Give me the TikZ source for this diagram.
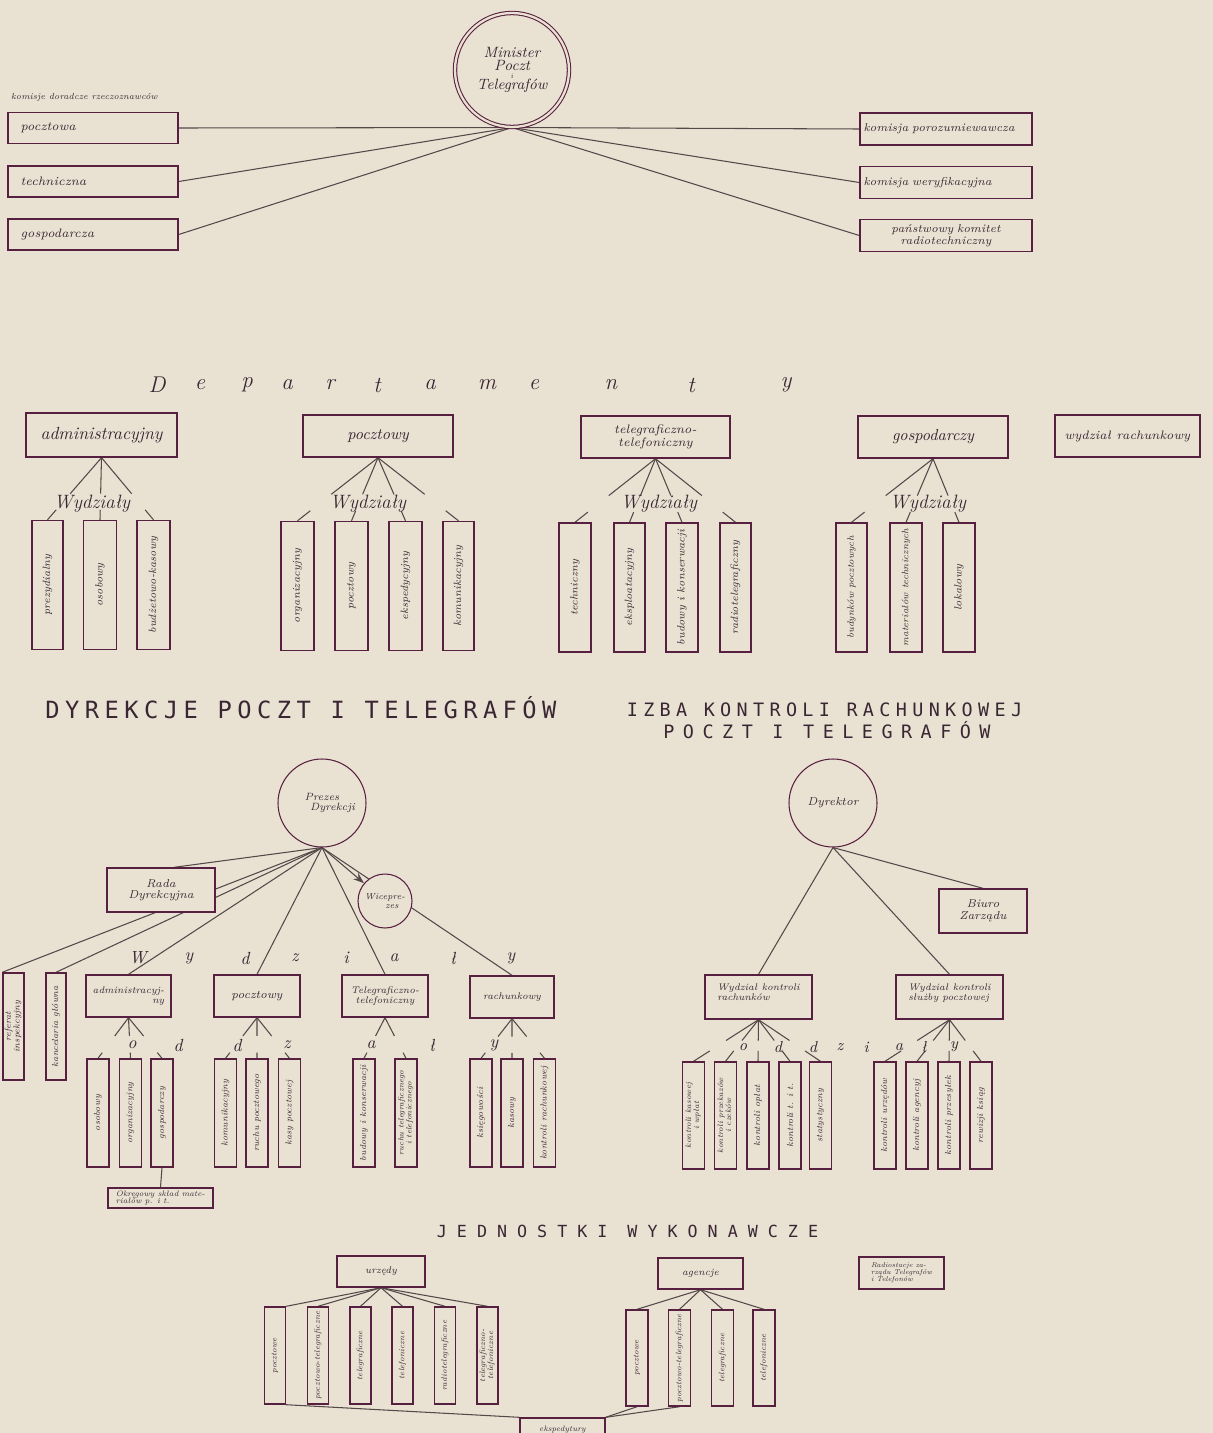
\documentclass[tikz,border=0pt]{standalone}
\usepackage{fontspec}
\usepackage{graphicx}
\usetikzlibrary{calc,arrows.meta}
\newfontfamily\headfont{DejaVu Sans Mono}
\definecolor{paper}{RGB}{233,226,211}
\definecolor{ink}{RGB}{58,38,50}
\definecolor{boxline}{RGB}{88,32,64}
\definecolor{wire}{RGB}{84,72,72}
\pgfdeclarelayer{back}
\pgfsetlayers{back,main}
\newcommand{\hw}[1]{\fontsize{#1}{#1}\selectfont\itshape}
\newcommand{\vt}[1]{\rotatebox{90}{#1}}
\newcommand{\vtt}[2]{\rotatebox{90}{\begin{tabular}{@{}c@{}}#1\\#2\end{tabular}}}
\newcommand{\fan}[4]{%
  \foreach \c in {#2}
    \draw[link] (#1.south) -- ($(#1.south)!#3!(\c.north)$)
                ($(#1.south)!#4!(\c.north)$) -- (\c.north);
}
\tikzset{
  orgbox/.style 2 args = {draw=boxline,thick,fill=paper,text=ink,align=center,inner sep=1pt,
                          minimum width=#1*0.02cm,minimum height=#2*0.02cm},
  orgstrip/.style 2 args = {orgbox={#1}{#2},font=\hw{5}},
  lbox/.style  = {orgbox={170}{31},text width=2.9cm,inner xsep=0.25cm,align=left,font=\hw{7}},
  rbox/.style  = {orgbox={172}{32},text width=3.3cm,inner xsep=0.07cm,align=left,font=\hw{6.5}},
  ring/.style  = {circle,draw=boxline,semithick,fill=paper,text=ink,align=center,inner sep=0pt,
                  minimum size=#1*0.02cm},
  link/.style  = {draw=wire,semithick},
  spaced/.style = {text=ink,font=\hw{#1},inner sep=1pt},
  head/.style  = {text=ink,font=\headfont\fontsize{#1}{#1}\selectfont}
}
\begin{document}
\begin{tikzpicture}[x=0.02cm,y=-0.02cm]
  \useasboundingbox (0,0) rectangle (1213,1433);

  % ministerstwo
  \node[ring=114,double=paper,double distance=1.3pt,font=\hw{8.5}] (min) at (512,70)
    {Minister\\[-1pt]Poczt\\[-4pt]{\hw{4}i}\\[-2pt]Telegrafów};
  \node[text=ink,font=\hw{5},anchor=west] (kom) at (5,97) {komisje doradcze rzeczoznawców};
  \node[lbox] (kPoc) at (93,128) {pocztowa};
  \node[lbox] (kTech) at (93,181.5) {techniczna};
  \node[lbox] (kGos) at (93,234.5) {gospodarcza};
  \node[rbox] (kPor) at (946,129) {komisja porozumiewawcza};
  \node[rbox] (kWer) at (946,182.5) {komisja weryfikacyjna};
  \node[rbox,align=center] (kRad) at (946,235.5) {państwowy komitet\\radiotechniczny};

  % departamenty
  \foreach \x/\l in {157/D,200/e,247/p,287/a,330/r,377/t,430/a,487/m,534/e,611/n,691/t,786/y}
    \node[spaced=13] (dl\x) at (\x,385) {\l};
  \node[orgbox={151}{44},font=\hw{10}] (depAdm) at (101.5,435) {administracyjny};
  \node[orgbox={150}{42},font=\hw{9}] (depPoc) at (378,436) {pocztowy};
  \node[orgbox={149}{42},font=\hw{7}] (depTel) at (655.5,437) {telegraficzno-\\telefoniczny};
  \node[orgbox={150}{42},font=\hw{9}] (depGos) at (933,437) {gospodarczy};
  \node[orgbox={145}{42},font=\hw{7}] (depRach) at (1127.5,436) {wydział rachunkowy};
  \foreach \x/\n in {92/1,368/2,659/3,928/4}
    \node[spaced=11] (wyd\n) at (\x,504) {Wydziały};

  \node[orgstrip={31}{129},font=\hw{6}] (adm1) at (47.5,585) {\vt{prezydialny}};
  \node[orgstrip={33}{129},font=\hw{6}] (adm2) at (100,585) {\vt{osobowy}};
  \node[orgstrip={33}{129},font=\hw{6}] (adm3) at (153.5,585) {\vt{budżetowo-kasowy}};
  \node[orgstrip={33}{129},font=\hw{6}] (poc1) at (297.5,586) {\vt{organizacyjny}};
  \node[orgstrip={33}{129},font=\hw{6}] (poc2) at (351.5,586) {\vt{pocztowy}};
  \node[orgstrip={33}{129},font=\hw{6}] (poc3) at (405.5,586) {\vt{ekspedycyjny}};
  \node[orgstrip={31}{129},font=\hw{6}] (poc4) at (458.5,586) {\vt{komunikacyjny}};
  \node[orgstrip={32}{129},font=\hw{6}] (tel1) at (575,587.5) {\vt{techniczny}};
  \node[orgstrip={31}{129},font=\hw{6}] (tel2) at (629.5,587.5) {\vt{eksploatacyjny}};
  \node[orgstrip={32}{129},font=\hw{6}] (tel3) at (682,587.5) {\vt{budowy i konserwacji}};
  \node[orgstrip={31}{129},font=\hw{6}] (tel4) at (735.5,587.5) {\vt{radiotelegraficzny}};
  \node[orgstrip={31}{129},font=\hw{5.3}] (gos1) at (851.5,587.5) {\vt{budynków pocztowych}};
  \node[orgstrip={32}{129},font=\hw{5.3}] (gos2) at (906,587.5) {\vt{materiałów technicznych}};
  \node[orgstrip={32}{129},font=\hw{6}] (gos3) at (959,587.5) {\vt{lokalowy}};

  % dyrekcje
  \node[head=13.5] (hDyr) at (301,708) {\addfontfeature{LetterSpace=23}DYREKCJE POCZT I TELEGRAFÓW};
  \node[ring=88,font=\hw{6}] (pres) at (322,803) {Prezes\\\hspace{12pt}Dyrekcji};
  \node[orgbox={108}{44},font=\hw{6.5}] (rada) at (161,890) {Rada\\Dyrekcyjna};
  \node[ring=54,font=\hw{5}] (wice) at (385,901) {Wicepre-\\\hspace{8pt}zes};
  \foreach \x/\l in {138/W,189/y,245/d,295/z,346/i,394/a,453/ł,511/y}
    \node[spaced=10] (wl\x) at (\x,958) {\l};
  \node[orgstrip={21}{107}] (ref1) at (13.5,1026.5) {\vtt{referat}{inspekcyjny}};
  \node[orgstrip={20}{107}] (ref2) at (56,1026.5) {\vt{kancelaria główna}};
  \node[orgbox={85}{42},font=\hw{5.5}] (wAdm) at (128.5,996) {administracyj-\\\hfill ny};
  \node[orgbox={86}{42},font=\hw{6.5}] (wPoc) at (257,996) {pocztowy};
  \node[orgbox={86}{42},font=\hw{5.5}] (wTel) at (385,996) {Telegraficzno-\\telefoniczny};
  \node[orgbox={84}{42},font=\hw{5.5}] (wRach) at (512,997) {rachunkowy};
  \foreach \x/\l in {132/o,178/d,237/d,287/z,371/a,432/ł,494/y}
    \node[spaced=10] (ol\x) at (\x,1045) {\l};
  \node[orgstrip={22}{108}] (oAdm1) at (98,1113) {\vt{osobowy}};
  \node[orgstrip={22}{108}] (oAdm2) at (130.5,1113) {\vt{organizacyjny}};
  \node[orgstrip={22}{108}] (oAdm3) at (162,1113) {\vt{gospodarczy}};
  \node[orgstrip={22}{108}] (oPoc1) at (225.5,1113) {\vt{komunikacyjny}};
  \node[orgstrip={22}{108}] (oPoc2) at (257,1113) {\vt{ruchu pocztowego}};
  \node[orgstrip={22}{108}] (oPoc3) at (289.5,1113) {\vt{kasy pocztowej}};
  \node[orgstrip={22}{108}] (oTel1) at (364,1113) {\vt{budowy i konserwacji}};
  \node[orgstrip={22}{108},font=\hw{4.5}] (oTel2) at (406,1113) {\vtt{ruchu telegraficznego}{i telefonicznego}};
  \node[orgstrip={22}{108}] (oRach1) at (481,1113) {\vt{księgowości}};
  \node[orgstrip={22}{108}] (oRach2) at (512,1113) {\vt{kasowy}};
  \node[orgstrip={22}{108}] (oRach3) at (544.5,1113) {\vt{kontroli rachunkowej}};
  \node[orgbox={105}{20},font=\hw{4.5},align=left] (sklad) at (160.5,1198)
    {Okręgowy skład mate-\\riałów p. i t.};

  % izba kontroli
  \node[head=10.5] (hIzba) at (824.5,710) {\addfontfeature{LetterSpace=29}IZBA KONTROLI RACHUNKOWEJ};
  \node[head=10.5] (hIzba2) at (827,730) {\addfontfeature{LetterSpace=46}POCZT I TELEGRAFÓW};
  \node[ring=88,font=\hw{6.5}] (dyr) at (833,803) {Dyrektor};
  \node[orgbox={88}{44},font=\hw{6.5}] (biuro) at (983,911) {Biuro\\Zarządu};
  \node[orgbox={107}{44},font=\hw{5.5},align=left] (wKr) at (758.5,997)
    {Wydział kontroli\\rachunków\\~};
  \node[orgbox={107}{44},font=\hw{5.5},align=left] (wKs) at (949.5,997)
    {Wydział kontroli\\służby pocztowej\\~};
  \foreach \x/\l in {743/o,778/d,813/d,840/z,866/i,899/a,924/ł,954/y}
    \node[spaced=9] (il\x) at (\x,1047) {\l};
  \node[orgstrip={22}{107},font=\hw{4.5}] (kr1) at (693.5,1115.5) {\vtt{kontroli kasowej}{i wpłat}};
  \node[orgstrip={22}{107},font=\hw{4.5}] (kr2) at (725.5,1115.5) {\vtt{kontroli przekazów}{i czeków}};
  \node[orgstrip={22}{107}] (kr3) at (758,1115.5) {\vt{kontroli opłat}};
  \node[orgstrip={22}{107}] (kr4) at (790,1115.5) {\vt{kontroli t. i t.}};
  \node[orgstrip={22}{107}] (kr5) at (820.5,1115.5) {\vt{statystyczny}};
  \node[orgstrip={22}{107}] (ks1) at (885,1115.5) {\vt{kontroli urzędów}};
  \node[orgstrip={22}{107}] (ks2) at (917,1115.5) {\vt{kontroli agencyj}};
  \node[orgstrip={22}{107}] (ks3) at (949,1115.5) {\vt{kontroli przesyłek}};
  \node[orgstrip={22}{107}] (ks4) at (981,1115.5) {\vt{rewizji ksiąg}};

  % jednostki wykonawcze
  \node[head=9.5] (hJedn) at (627.5,1231) {\addfontfeature{LetterSpace=60}JEDNOSTKI WYKONAWCZE};
  \node[orgbox={88}{31},font=\hw{5.5}] (urz) at (381,1271.5) {urzędy};
  \node[orgbox={85}{31},font=\hw{5.5}] (age) at (700.5,1273.5) {agencje};
  \node[orgbox={85}{32},font=\hw{4},align=left] (radio) at (901.5,1273)
    {Radiostacje za-\\rządu Telegrafów\\i Telefonów};
  \node[orgstrip={21}{97},font=\hw{4.5}] (u1) at (275,1355.5) {\vt{pocztowe}};
  \node[orgstrip={21}{97},font=\hw{4.5}] (u2) at (318,1355.5) {\vt{pocztowo-telegraficzne}};
  \node[orgstrip={21}{97},font=\hw{4.5}] (u3) at (360.5,1355.5) {\vt{telegraficzne}};
  \node[orgstrip={21}{97},font=\hw{4.5}] (u4) at (402.5,1355.5) {\vt{telefoniczne}};
  \node[orgstrip={21}{97},font=\hw{4.5}] (u5) at (445,1355.5) {\vt{radiotelegraficzne}};
  \node[orgstrip={21}{97},font=\hw{4.5}] (u6) at (487.5,1355.5) {\vtt{telegraficzno-}{telefoniczne}};
  \node[orgstrip={22}{96},font=\hw{4.5}] (ag1) at (637,1358) {\vt{pocztowe}};
  \node[orgstrip={22}{96},font=\hw{4.5}] (ag2) at (679.5,1358) {\vt{pocztowo-telegraficzne}};
  \node[orgstrip={22}{96},font=\hw{4.5}] (ag3) at (722.5,1358) {\vt{telegraficzne}};
  \node[orgstrip={22}{96},font=\hw{4.5}] (ag4) at (764,1358) {\vt{telefoniczne}};
  \node[orgbox={85}{30},font=\hw{4.5}] (eksp) at (562.5,1433) {ekspedytury\\~};

  \begin{pgfonlayer}{back}
    \fill[paper] (0,0) rectangle (1213,1433);
    \foreach \k in {kPoc,kTech,kGos} \draw[link] (min.south) -- (\k.east);
    \foreach \k in {kPor,kWer,kRad} \draw[link] (min.south) -- (\k.west);
    \fan{depAdm}{adm1,adm2,adm3}{.58}{.84}
    \fan{depPoc}{poc1,poc2,poc3,poc4}{.58}{.84}
    \fan{depTel}{tel1,tel2,tel3,tel4}{.58}{.84}
    \fan{depGos}{gos1,gos2,gos3}{.58}{.84}
    \draw[link,-{Stealth[length=2.2mm,width=1.6mm]}] (pres.south) -- (wice);
    \draw[link] (pres.south) -- (rada.60);
    \draw[link] (pres.south) -- (ref1.north west);
    \draw[link] (pres.south) -- (ref2.north);
    \foreach \w in {wAdm,wPoc,wTel,wRach} \draw[link] (pres.south) -- (\w.north);
    \fan{wAdm}{oAdm1,oAdm2,oAdm3}{.45}{.86}
    \fan{wPoc}{oPoc1,oPoc2,oPoc3}{.45}{.86}
    \fan{wTel}{oTel1,oTel2}{.45}{.86}
    \fan{wRach}{oRach1,oRach2,oRach3}{.45}{.86}
    \draw[link] (oAdm3.south) -- (sklad.north);
    \foreach \w in {biuro,wKr,wKs} \draw[link] (dyr.south) -- (\w.north);
    \fan{wKr}{kr1,kr2,kr3,kr4,kr5}{.5}{.75}
    \fan{wKs}{ks1,ks2,ks3,ks4}{.5}{.75}
    \draw[link] (urz.south) -- (u1.north east);
    \foreach \u in {u2,u3,u4,u5,u6} \draw[link] (urz.south) -- (\u.north);
    \foreach \a in {ag1,ag2,ag3,ag4} \draw[link] (age.south) -- (\a.north);
    \draw[link] (eksp.north west) -- (u1.south east);
    \draw[link] (eksp.north east) -- (ag1.south);
    \draw[link] (eksp.north east) -- (ag2.south);
  \end{pgfonlayer}
\end{tikzpicture}
\end{document}
